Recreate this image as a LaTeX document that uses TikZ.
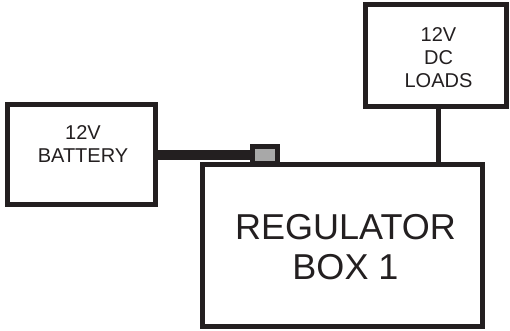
\documentclass[tikz,border=0pt]{standalone}
\usepackage{fontspec}
\setmainfont{Liberation Sans}
\usetikzlibrary{backgrounds}
\definecolor{ink}{RGB}{35,31,32}
\definecolor{plug}{RGB}{168,168,168}
\tikzset{
  box/.style={draw=ink, line width=5pt, fill=white, rectangle, inner sep=0pt},
  small/.style={font=\fontsize{20}{23}\selectfont, align=center, inner sep=0pt, text=ink, anchor=north},
  big/.style={font=\fontsize{36}{40}\selectfont, align=center, inner sep=0pt, text=ink, anchor=north},
  wire/.style={draw=ink, line width=5pt},
  cable/.style={draw=ink, line width=10.5pt},
  plugbox/.style={draw=ink, line width=5pt, fill=plug, rectangle, inner sep=0pt, minimum width=25pt, minimum height=17pt}
}
\begin{document}
\begin{tikzpicture}[x=1pt,y=1pt]
\useasboundingbox (0,0) rectangle (510,-330);
\node[box, minimum width=147.5pt, minimum height=100.3pt] (bat) at (81.25,-154.35) {};
\node[box, minimum width=280pt, minimum height=162pt] (reg) at (342.5,-245.5) {};
\node[box, minimum width=141pt, minimum height=102pt] (loads) at (436,-55.5) {};
\node[plugbox] (conn) at (265,-155) {};
\begin{pgfonlayer}{background}
\draw[cable] (conn.west -| bat.east) -- (conn.west);
\end{pgfonlayer}
\coordinate (wtop) at ([xshift=2.7pt]loads.south);
\draw[wire] (wtop) -- (wtop |- reg.north);
\node[small] (battxt) at (83,-125) {12V\\BATTERY};
\node[small] (loadtxt) at (438.5,-27) {12V\\DC\\LOADS};
\node[big] (regtxt) at (345.5,-214) {REGULATOR\\BOX 1};
\end{tikzpicture}
\end{document}
